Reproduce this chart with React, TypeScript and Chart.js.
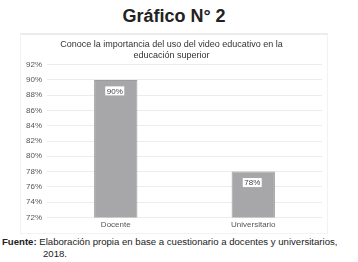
import React, { useEffect, useRef } from "react";
import { Chart, registerables } from "chart.js";

Chart.register(...registerables);

const categories = ["Docente", "Universitario"];
const values = [90, 78];
const valueLabels = ["90%", "78%"];
const yMin = 72;
const yMax = 92;
const yStep = 2;
const chartTitle = ["Conoce la importancia del uso del video educativo en la", "educación superior"];
const figureTitle = "Gráfico N° 2";
const sourceLabel = "Fuente:";
const sourceText = "Elaboración propia en base a cuestionario a docentes y universitarios, 2018.";

const FONT = "'Liberation Sans', Arial, Helvetica, sans-serif";

const valueLabelPlugin = {
  id: "valueLabels",
  afterDatasetsDraw(chart: any) {
    const ctx = chart.ctx;
    const meta = chart.getDatasetMeta(0);
    ctx.save();
    ctx.font = `8px ${FONT}`;
    ctx.textAlign = "center";
    ctx.textBaseline = "middle";
    meta.data.forEach((bar: any, i: number) => {
      const text = valueLabels[i];
      const w = ctx.measureText(text).width + 3;
      const h = 9;
      const cx = bar.x - 1;
      const cy = bar.y + 11;
      ctx.fillStyle = "#ffffff";
      ctx.fillRect(cx - w / 2, cy - h / 2, w, h);
      ctx.fillStyle = "#444444";
      ctx.fillText(text, cx, cy + 0.5);
    });
    ctx.restore();
  },
};

function BarChart() {
  const ref = useRef<HTMLCanvasElement | null>(null);
  useEffect(() => {
    if (!ref.current) return;
    const chart = new Chart(ref.current, {
      type: "bar",
      data: {
        labels: categories,
        datasets: [
          {
            data: values,
            backgroundColor: "#a7a7aa",
            borderColor: "#9c9c9f",
            borderWidth: 1,
            barPercentage: 0.9,
            categoryPercentage: 0.35,
          },
        ],
      },
      options: {
        animation: false,
        responsive: false,
        maintainAspectRatio: false,
        layout: { padding: { left: 0, right: 5, top: 4, bottom: 0 } },
        plugins: {
          legend: { display: false },
          tooltip: { enabled: false },
          title: {
            display: true,
            text: chartTitle,
            color: "#333333",
            font: { family: FONT, size: 9, weight: "normal", lineHeight: 1.2 },
            padding: { top: 0, bottom: 4 },
          },
        },
        scales: {
          x: {
            grid: { display: false, drawTicks: false },
            border: { display: false },
            ticks: { color: "#555555", font: { family: FONT, size: 8 }, padding: 3 },
          },
          y: {
            min: yMin,
            max: yMax,
            ticks: {
              stepSize: yStep,
              color: "#555555",
              font: { family: FONT, size: 8 },
              padding: 5,
              callback: (v: any) => `${v}%`,
            },
            grid: { color: "#ececec", drawTicks: false },
            border: { display: false },
          },
        },
      },
      plugins: [valueLabelPlugin],
    });
    return () => chart.destroy();
  }, []);
  return <canvas ref={ref} width={306} height={198} style={{ display: "block" }} />;
}

export default function App() {
  return (
    <div
      style={{
        position: "fixed",
        left: 0,
        top: 0,
        width: 358,
        height: 262,
        background: "#ffffff",
        fontFamily: FONT,
        overflow: "hidden",
      }}
    >
      <div
        style={{
          position: "absolute",
          left: 0,
          top: 4,
          width: 348,
          textAlign: "center",
          fontWeight: "bold",
          fontSize: 18,
          color: "#222222",
          lineHeight: "24px",
        }}
      >
        {figureTitle}
      </div>
      <div
        style={{
          position: "absolute",
          left: 20,
          top: 33,
          width: 306,
          height: 198,
          borderTop: "2px solid #ebebeb",
          borderLeft: "1px solid #f2f2f2",
          borderRight: "1px solid #f2f2f2",
          borderBottom: "1px solid #f2f2f2",
        }}
      >
        <BarChart />
      </div>
      <div
        style={{
          position: "absolute",
          left: 1,
          top: 236,
          width: 345,
          boxSizing: "border-box",
          fontSize: 9.6,
          lineHeight: "12px",
          color: "#222222",
          paddingLeft: 42,
          textIndent: -41,
        }}
      >
        <b>{sourceLabel}</b> {sourceText}
      </div>
    </div>
  );
}
